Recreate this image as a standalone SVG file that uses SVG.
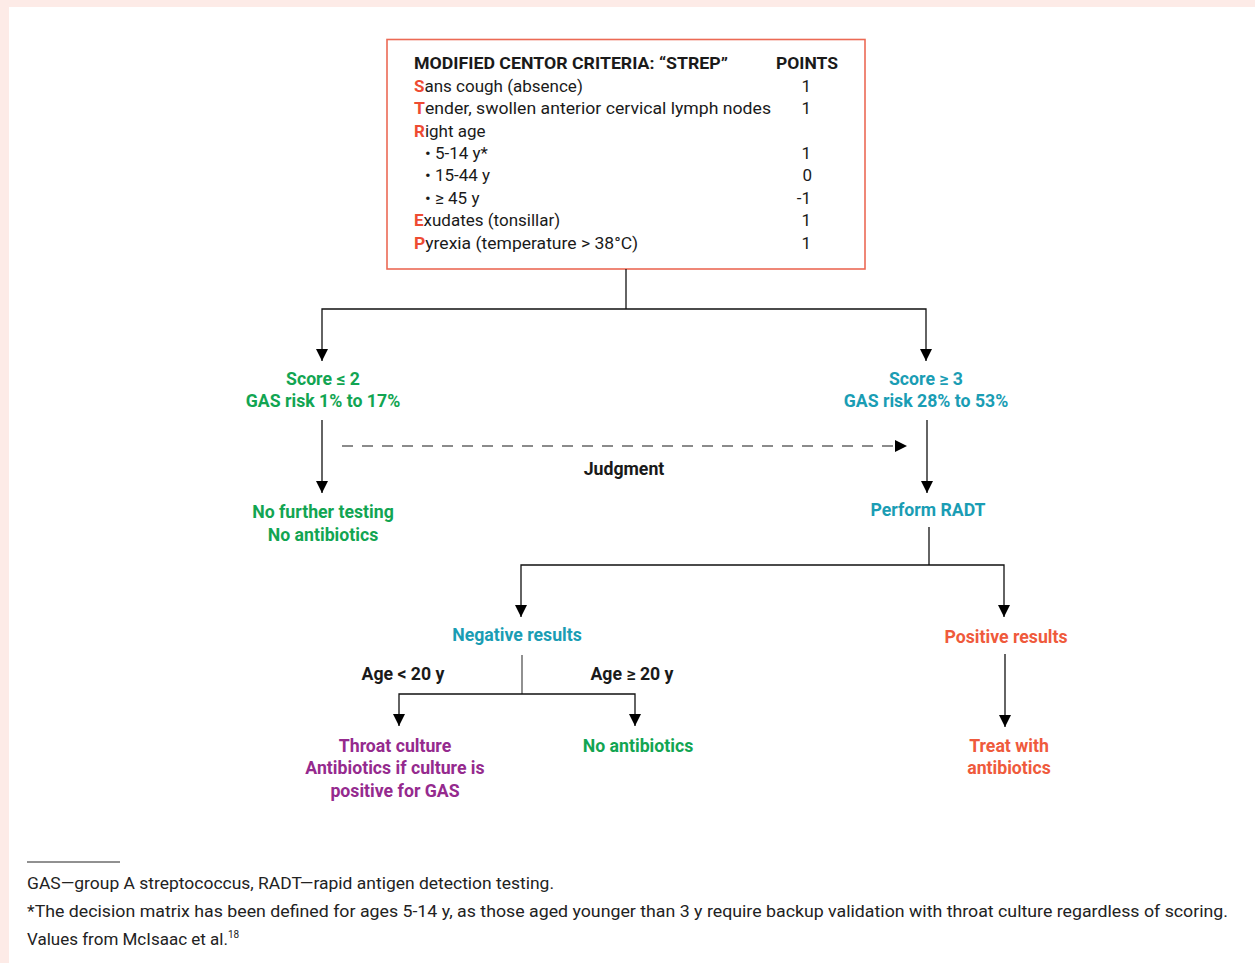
<svg xmlns="http://www.w3.org/2000/svg" width="1255" height="963" viewBox="0 0 1255 963">
<defs>
<marker id="ah" markerUnits="userSpaceOnUse" markerWidth="14" markerHeight="14" viewBox="0 0 14 14" refX="12" refY="7" orient="auto">
<path d="M0,1 L12,7 L0,13 Z" fill="#000"/>
</marker>
<style>
.box{fill:#fff;stroke:#ec6a55;stroke-width:1.6}
.ln{fill:none;stroke:#111;stroke-width:1.3}
.arr{fill:none;stroke:#111;stroke-width:1.3;marker-end:url(#ah)}
.dash{fill:none;stroke:#666;stroke-width:1.6;stroke-dasharray:11 9}
.bt{font-family:Roboto,"Liberation Sans",sans-serif;font-size:17px;fill:#1a1a1a}
.bh{font-family:Roboto,"Liberation Sans",sans-serif;font-size:16.5px;font-weight:bold;fill:#1a1a1a}
.red{fill:#ee4b32;font-weight:bold}
.lab{font-family:Roboto,"Liberation Sans",sans-serif;font-size:17.7px;font-weight:bold;text-anchor:middle}
.g{fill:#12a552}.t{fill:#1a9db4}.o{fill:#ef5a3c}.p{fill:#952a8e}.k{fill:#1a1a1a}
.ft{font-family:Roboto,"Liberation Sans",sans-serif;font-size:17px;fill:#222}
</style>
</defs>
<rect x="0" y="0" width="1255" height="963" fill="#fdebe7"/>
<rect x="9" y="7" width="1246" height="956" fill="#fff"/>

<g id="criteria">
<rect class="box" x="387" y="39.5" width="478" height="229.5"/>
<text class="bh" x="414" y="69" textLength="314" lengthAdjust="spacingAndGlyphs">MODIFIED CENTOR CRITERIA: “STREP”</text>
<text class="bh" x="776" y="69" textLength="62" lengthAdjust="spacingAndGlyphs">POINTS</text>
<text class="bt" x="414" y="92"><tspan class="red">S</tspan>ans cough (absence)</text>
<text class="bt" x="414" y="114" textLength="357" lengthAdjust="spacingAndGlyphs"><tspan class="red">T</tspan>ender, swollen anterior cervical lymph nodes</text>
<text class="bt" x="414" y="137"><tspan class="red">R</tspan>ight age</text>
<text class="bt" x="425" y="159">• 5-14 y*</text>
<text class="bt" x="425" y="181">• 15-44 y</text>
<text class="bt" x="425" y="204">• ≥ 45 y</text>
<text class="bt" x="414" y="226"><tspan class="red">E</tspan>xudates (tonsillar)</text>
<text class="bt" x="414" y="249" textLength="224" lengthAdjust="spacingAndGlyphs"><tspan class="red">P</tspan>yrexia (temperature &gt; 38°C)</text>
<g class="bt" text-anchor="end">
<text x="811" y="92">1</text>
<text x="811" y="114">1</text>
<text x="811" y="159">1</text>
<text x="812" y="181">0</text>
<text x="811" y="204">-1</text>
<text x="811" y="226">1</text>
<text x="811" y="249">1</text>
</g>
</g>

<g id="connectors">
<polyline class="ln" points="626,269 626,309"/>
<polyline class="arr" points="626,309 322,309 322,361"/>
<polyline class="arr" points="626,309 926,309 926,361"/>
<line class="arr" x1="322" y1="420" x2="322" y2="493"/>
<line class="dash" x1="342" y1="446" x2="896" y2="446"/>
<path d="M895,440 L907,446 L895,452 Z" fill="#000"/>
<line class="arr" x1="927" y1="420" x2="927" y2="493"/>
<polyline class="ln" points="929,527 929,565"/>
<polyline class="arr" points="929,565 521,565 521,617"/>
<polyline class="arr" points="929,565 1004,565 1004,617"/>
<polyline class="ln" points="522,655 522,694" style="stroke:#555"/>
<polyline class="arr" points="522,694 399,694 399,726"/>
<polyline class="arr" points="522,694 635,694 635,726"/>
<line class="arr" x1="1005" y1="654" x2="1005" y2="727"/>
</g>

<g id="low-score"><text class="lab g" x="323" y="385">Score ≤ 2</text><text class="lab g" x="323" y="407">GAS risk 1% to 17%</text></g>
<g id="high-score"><text class="lab t" x="926" y="385">Score ≥ 3</text><text class="lab t" x="926" y="407">GAS risk 28% to 53%</text></g>
<g id="judgment"><text class="lab k" x="624" y="475">Judgment</text></g>
<g id="no-testing"><text class="lab g" x="323" y="518">No further testing</text><text class="lab g" x="323" y="541">No antibiotics</text></g>
<g id="radt"><text class="lab t" x="928" y="516">Perform RADT</text></g>
<g id="negative"><text class="lab t" x="517" y="641">Negative results</text></g>
<g id="positive"><text class="lab o" x="1006" y="643">Positive results</text></g>
<g id="age-lt"><text class="lab k" x="403" y="680">Age &lt; 20 y</text></g>
<g id="age-ge"><text class="lab k" x="632" y="680">Age ≥ 20 y</text></g>
<g id="throat"><text class="lab p" x="395" y="752">Throat culture</text><text class="lab p" x="395" y="774">Antibiotics if culture is</text><text class="lab p" x="395" y="797">positive for GAS</text></g>
<g id="no-abx"><text class="lab g" x="638" y="752">No antibiotics</text></g>
<g id="treat"><text class="lab o" x="1009" y="752">Treat with</text><text class="lab o" x="1009" y="774">antibiotics</text></g>

<g id="footnotes">
<line x1="27" y1="862" x2="120" y2="862" stroke="#222" stroke-width="1"/>
<text class="ft" x="27" y="889" textLength="527" lengthAdjust="spacingAndGlyphs">GAS—group A streptococcus, RADT—rapid antigen detection testing.</text>
<text class="ft" x="27" y="917" textLength="1201" lengthAdjust="spacingAndGlyphs">*The decision matrix has been defined for ages 5-14 y, as those aged younger than 3 y require backup validation with throat culture regardless of scoring.</text>
<text class="ft" x="27" y="945">Values from McIsaac et al.<tspan font-size="10" dy="-7">18</tspan></text>
</g>
</svg>
